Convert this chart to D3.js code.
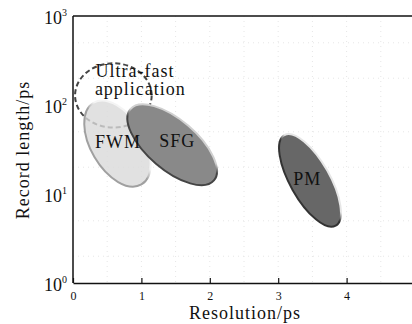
<!DOCTYPE html>
<html lang="en">
<head>
<meta charset="utf-8">
<title>Record length vs resolution</title>
<script src="https://cdn.jsdelivr.net/npm/d3@7"></script>
<style>
  body { margin: 0; background: #fff; }
  svg text { font-family: "Liberation Serif", "DejaVu Serif", serif; fill: #111; }
</style>
</head>
<body>
<div id="chart"></div>
<script>
// axis ticks
var xTicks = [0, 1, 2, 3, 4, 5];
var yTicks = [1, 10, 100, 1000];

// regions: major axis from (x0,y0) to (x1,y1) in data units, half width in ps
var regionNames = ["FWM", "SFG", "PM"];
var regionStart = [[0.3, 106], [0.84, 90], [3.09, 46]];
var regionEnd = [[1.0, 12.8], [2.06, 14.2], [3.84, 4.4]];
var regionHalfWidth = [0.39, 0.365, 0.29];
var regionLabel = [[0.32, 32.9], [1.26, 33.7], [3.22, 12.6]];

// ultra-fast application (dashed)
var ultraStart = [0.03, 128];
var ultraEnd = [1.15, 128];
var ultraHalfWidth = 0.47;
var ultraText = ["Ultra-fast", "application"];
var ultraTextPos = [[0.33, 206], [0.32, 129]];

var W = 412, H = 324;
var serif = '"Liberation Serif", "DejaVu Serif", serif';
var svg = d3.select("#chart").append("svg")
  .attr("width", W).attr("height", H);

var x = d3.scaleLinear().domain([0, 5]).range([73, 415]);
var y = d3.scaleLog().domain([1, 1000]).range([283, 16]);

var fills = ["#d9d9d9", "#898989", "#676767"];
var rimTop = ["#f4f4f4", "#d0d0d0", "#e6e6e6"];
var rimBot = ["#a0a0a0", "#444", "#333"];

var defs = svg.append("defs");
regionNames.forEach(function(n, i) {
  var g = defs.append("linearGradient").attr("id", "rim" + i)
    .attr("x1", 0).attr("y1", 0).attr("x2", 0.3).attr("y2", 1);
  g.append("stop").attr("offset", "0%").attr("stop-color", rimTop[i]);
  g.append("stop").attr("offset", "45%").attr("stop-color", rimTop[i]);
  g.append("stop").attr("offset", "60%").attr("stop-color", rimBot[i]);
  g.append("stop").attr("offset", "100%").attr("stop-color", rimBot[i]);
});

// faint dotted grid
var grid = svg.append("g");
d3.range(0.5, 5, 0.5).forEach(function(v) {
  grid.append("line").attr("x1", x(v)).attr("x2", x(v))
    .attr("y1", y(1000)).attr("y2", y(1))
    .attr("stroke", "#e6e6e6").attr("stroke-dasharray", "1,4");
});
[2, 5, 20, 50, 200, 500].forEach(function(v) {
  grid.append("line").attr("x1", x(0)).attr("x2", 412)
    .attr("y1", y(v)).attr("y2", y(v))
    .attr("stroke", "#e6e6e6").attr("stroke-dasharray", "1,4");
});

function ellipseGeom(a, b, hw) {
  var px0 = x(a[0]), py0 = y(a[1]), px1 = x(b[0]), py1 = y(b[1]);
  var cx = (px0 + px1) / 2, cy = (py0 + py1) / 2;
  var rx = Math.hypot(px1 - px0, py1 - py0) / 2;
  var ry = x(hw) - x(0);
  var ang = Math.atan2(py1 - py0, px1 - px0) * 180 / Math.PI;
  return {cx: cx, cy: cy, rx: rx, ry: ry, ang: ang};
}

// dashed ultra-fast region
var u = ellipseGeom(ultraStart, ultraEnd, ultraHalfWidth);
svg.append("ellipse")
  .attr("transform", "translate(" + u.cx + "," + u.cy + ") rotate(" + u.ang + ")")
  .attr("rx", u.rx).attr("ry", u.ry)
  .attr("fill", "none").attr("stroke", "#444")
  .attr("stroke-width", 2).attr("stroke-dasharray", "5,3");

var geoms = regionNames.map(function(d, i) {
  return ellipseGeom(regionStart[i], regionEnd[i], regionHalfWidth[i]);
});

svg.append("g").selectAll("ellipse")
  .data(geoms).enter().append("ellipse")
  .attr("transform", function(e) {
    return "translate(" + e.cx + "," + e.cy + ") rotate(" + e.ang + ")";
  })
  .attr("rx", function(e) { return e.rx; })
  .attr("ry", function(e) { return e.ry; })
  .attr("fill", function(e, i) { return fills[i]; })
  .attr("fill-opacity", function(e, i) { return i === 0 ? 0.8 : 1; })
  .attr("stroke", function(e, i) { return "url(#rim" + i + ")"; })
  .attr("stroke-width", 2);

// labels
var labelFont = 18;
svg.append("g").selectAll("text")
  .data(regionNames).enter().append("text")
  .attr("x", function(d, i) { return x(regionLabel[i][0]); })
  .attr("y", function(d, i) { return y(regionLabel[i][1]); })
  .attr("font-family", serif)
  .attr("font-size", labelFont).attr("letter-spacing", 1)
  .text(function(d) { return d; });

svg.append("g").selectAll("text")
  .data(ultraText).enter().append("text")
  .attr("x", function(d, i) { return x(ultraTextPos[i][0]); })
  .attr("y", function(d, i) { return y(ultraTextPos[i][1]); })
  .attr("font-family", serif)
  .attr("font-size", labelFont).attr("letter-spacing", 1)
  .text(function(d) { return d; });

// axes
svg.append("line").attr("x1", x(0)).attr("x2", 412)
  .attr("y1", y(1000)).attr("y2", y(1000))
  .attr("stroke", "#111").attr("stroke-width", 1.5);
svg.append("line").attr("x1", x(0)).attr("x2", x(0))
  .attr("y1", y(1000)).attr("y2", y(1))
  .attr("stroke", "#111").attr("stroke-width", 1.5);

var xAxis = svg.append("g")
  .attr("transform", "translate(0," + y(1) + ")")
  .attr("font-family", serif)
  .call(d3.axisBottom(x).tickValues(xTicks).tickFormat(d3.format("d"))
    .tickSizeInner(-5).tickSizeOuter(0).tickPadding(8));
xAxis.select(".domain").attr("stroke", "#111").attr("stroke-width", 1.5);
xAxis.selectAll(".tick line").attr("stroke", "#111").attr("stroke-width", 1.2);
xAxis.selectAll("text").attr("font-size", 12).attr("fill", "#111");

var yLab = svg.append("g").selectAll("text")
  .data(yTicks).enter().append("text")
  .attr("x", 44)
  .attr("y", function(d) { return y(d) + 8; })
  .attr("font-family", serif)
  .attr("font-size", 18);
yLab.append("tspan").text("10");
yLab.append("tspan").attr("font-size", 10).attr("dy", -8)
  .text(function(d) { return Math.round(Math.log10(d)); });

svg.append("text")
  .attr("transform", "translate(29,150) rotate(-90)")
  .attr("text-anchor", "middle").attr("font-family", serif)
  .attr("font-size", 18).attr("letter-spacing", 1)
  .text("Record length/ps");

svg.append("text")
  .attr("x", 245).attr("y", 319)
  .attr("text-anchor", "middle").attr("font-family", serif)
  .attr("font-size", 18).attr("letter-spacing", 1)
  .text("Resolution/ps");
</script>
</body>
</html>
